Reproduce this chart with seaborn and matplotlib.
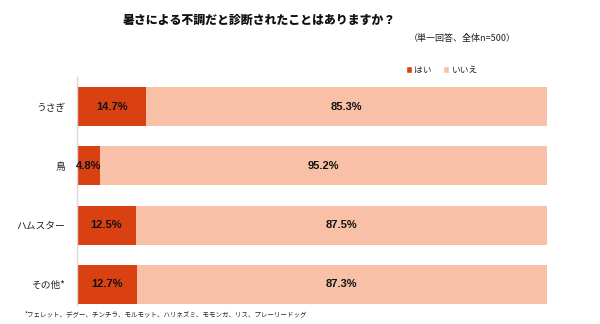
import matplotlib
matplotlib.use("Agg")
import matplotlib.pyplot as plt
from matplotlib.patches import Patch
import seaborn as sns
import pandas as pd

# Survey data
animals = ["うさぎ", "鳥", "ハムスター", "その他*"]
yes_pct = [14.7, 4.8, 12.5, 12.7]
no_pct = [85.3, 95.2, 87.5, 87.3]
series_names = ["はい", "いいえ"]

title = "暑さによる不調だと診断されたことはありますか？"
subtitle = "（単一回答、全体n=500）"
footnote = "*フェレット、デグー、チンチラ、モルモット、ハリネズミ、モモンガ、リス、プレーリードッグ"

dark = "#DA4112"
light = "#F8C0A6"

sns.set_theme(style="white")
plt.rcParams["font.family"] = ["Noto Sans CJK JP", "DejaVu Sans"]

df = pd.DataFrame({"animal": animals, "yes": yes_pct, "no": no_pct})
df["total"] = df["yes"] + df["no"]

fig = plt.figure(figsize=(6.0, 3.24), dpi=100)
ax = fig.add_axes([77 / 600, 1 - 314 / 324, 470 / 600, 237 / 324])

# Stacked horizontal bars: full bar in light, "yes" portion drawn over it
sns.barplot(data=df, y="animal", x="total", color=light, width=0.66,
            orient="h", ax=ax, saturation=1, edgecolor="none")
sns.barplot(data=df, y="animal", x="yes", color=dark, width=0.66,
            orient="h", ax=ax, saturation=1, edgecolor="none")

ax.set_xlim(0, 100)
ax.set_ylim(3.5, -0.5)
ax.set_xlabel("")
ax.set_ylabel("")
ax.set_xticks([])
ax.tick_params(axis="y", length=0, pad=8.5, labelsize=7.0)
for lbl in ax.get_yticklabels():
    lbl.set_color("#222222")
for side in ["top", "right", "bottom"]:
    ax.spines[side].set_visible(False)
ax.spines["left"].set_color("#D9D9D9")
ax.spines["left"].set_linewidth(1.0)
ax.spines["left"].set_bounds(-0.5, 3.35)

# Value labels centred in each segment
for i, (y, n) in enumerate(zip(yes_pct, no_pct)):
    ax.text(y / 2, i, f"{y}%", ha="center", va="center", fontsize=8,
            fontweight="bold", family=["Liberation Sans", "DejaVu Sans"], color="#111111")
    ax.text(y + n / 2, i, f"{n}%", ha="center", va="center", fontsize=8,
            fontweight="bold", family=["Liberation Sans", "DejaVu Sans"], color="#111111")

fig.text(259 / 600, 1 - 20 / 324, title, ha="center", va="center",
         fontsize=8.6, fontweight="heavy", color="#111111")
fig.text(516 / 600, 1 - 38 / 324, subtitle, ha="right", va="center",
         fontsize=6.5, color="#222222")

handles = [Patch(facecolor=dark, label=series_names[0]),
           Patch(facecolor=light, label=series_names[1])]
fig.legend(handles=handles, loc="center", bbox_to_anchor=(442 / 600, 1 - 70 / 324),
           ncol=2, frameon=False, fontsize=6.3, handlelength=0.7, handleheight=0.7,
           handletextpad=0.3, columnspacing=1.3, borderpad=0)

fig.text(25 / 600, 1 - 314 / 324, footnote, ha="left", va="center",
         fontsize=4.65, color="#222222")

fig.savefig("out.png", dpi=100)
